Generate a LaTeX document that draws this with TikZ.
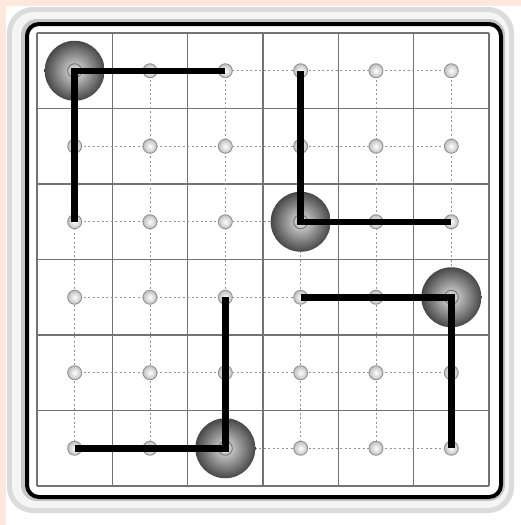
\documentclass[tikz,border=0pt]{standalone}
\usetikzlibrary{positioning}
\definecolor{PeachBack}{RGB}{252,233,220}
\begin{document}
\begin{tikzpicture}[x=1pt,y=-1pt]
    \tikzset{
        dot/.style={circle, inner sep=0pt, minimum size=14pt, draw=gray!85,
            line width=0.9pt, inner color=white, outer color=gray!50},
        ball/.style={circle, inner sep=0pt, minimum size=60pt,
            inner color=gray!22, outer color=black!72},
        ring/.style={circle, inner sep=0pt, minimum size=14pt, draw=black!55,
            line width=0.9pt},
        cellline/.style={draw=black!55, line width=1.3pt},
        guide/.style={draw=gray!85, line width=0.8pt, dash pattern=on 2pt off 2.5pt},
        link/.style={line width=6.5pt, line join=miter}
    }
    \useasboundingbox (0,0) rectangle (521,525);
    \fill[PeachBack] (0,0) rectangle (521,525);
    \fill[white] (6,6) rectangle (521,525);
    % frame
    \fill[rounded corners=26pt, gray!28] (7,7) rectangle (514,513);
    \fill[rounded corners=22pt, gray!8] (12,12) rectangle (509,508);
    \fill[rounded corners=16pt, gray!45] (21,19) rectangle (505,501);
    \draw[rounded corners=12pt, line width=4pt, fill=white] (27,24) rectangle (501,497);
    \begin{scope}[shift={(37,33)}, x=75.33pt, y=-75.5pt]
        % cells and guides
        \foreach \k in {0,...,6} {
            \draw[cellline] (\k,0) -- (\k,6);
            \draw[cellline] (0,\k) -- (6,\k);
        }
        \foreach \k in {0,...,5} {
            \draw[guide] (\k+.5,.5) -- (\k+.5,5.5);
            \draw[guide] (.5,\k+.5) -- (5.5,\k+.5);
        }
        \foreach \i in {0,...,5}
            \foreach \j in {0,...,5}
                \node[dot] (p-\i-\j) at (\i+.5,\j+.5) {};
        % balls
        \foreach \i/\j in {0/0, 3/2, 5/3, 2/5} {
            \node[ball] (b-\i-\j) at (p-\i-\j) {};
            \node[ring] (r-\i-\j) at (b-\i-\j) {};
        }
        % links
        \draw[link] (p-2-0.center) -- (p-0-0.center) -- (p-0-2.center);
        \draw[link] (p-3-0.center) -- (p-3-2.center) -- (p-5-2.center);
        \draw[link] (p-3-3.center) -- (p-5-3.center) -- (p-5-5.center);
        \draw[link] (p-0-5.center) -- (p-2-5.center) -- (p-2-3.center);
    \end{scope}
\end{tikzpicture}
\end{document}
